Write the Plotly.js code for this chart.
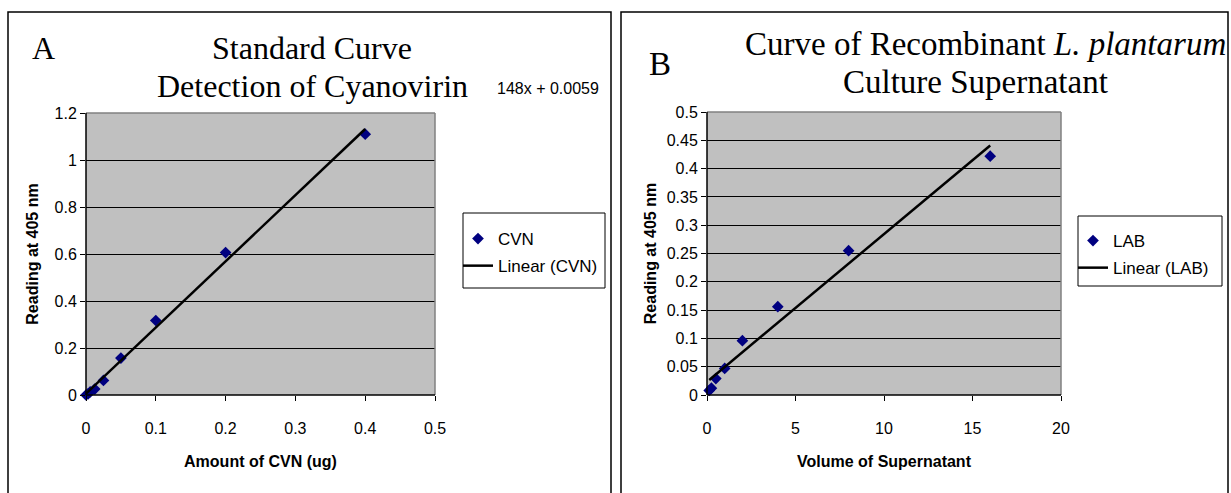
<!DOCTYPE html>
<html>
<head>
<meta charset="utf-8">
<script src="https://cdn.plot.ly/plotly-3.0.1.min.js"></script>
<style>html,body{margin:0;padding:0;background:#fff;}#chart{width:1231px;height:493px;}</style>
</head>
<body>
<div id="chart"></div>
<script>
// ---- Data ----
const cvnAmount = [0, 0.003, 0.006, 0.0125, 0.025, 0.05, 0.1, 0.2, 0.4];
const cvnReading = [0, 0.005, 0.013, 0.025, 0.062, 0.157, 0.317, 0.606, 1.11];
const cvnSlope = 2.8148;
const cvnIntercept = 0.0059;

const labVolume = [0.125, 0.25, 0.5, 1, 2, 4, 8, 16];
const labReading = [0.008, 0.012, 0.029, 0.047, 0.096, 0.156, 0.255, 0.422];
const labSlope = 0.0261;
const labIntercept = 0.0233;

const W = 1231, H = 493;
const X = px => px / W;
const Y = py => 1 - py / H;

function trend(xs, m, b) {
  const lo = Math.min(...xs), hi = Math.max(...xs);
  return {x: [lo, hi], y: [m * lo + b, m * hi + b]};
}
const tA = trend(cvnAmount, cvnSlope, cvnIntercept);
const tB = trend(labVolume, labSlope, labIntercept);

const sans = 'Liberation Sans, Arial, sans-serif';
const serif = 'Liberation Serif, Times New Roman, serif';
const markerStyle = {symbol: 'diamond', size: 9, color: '#000080'};

const data = [
  {type: 'scatter', mode: 'markers', name: 'CVN', x: cvnAmount, y: cvnReading,
   xaxis: 'x', yaxis: 'y', marker: markerStyle, legend: 'legend', legendgroup: 'a1', cliponaxis: false},
  {type: 'scatter', mode: 'lines', name: 'Linear (CVN)', x: tA.x, y: tA.y,
   xaxis: 'x', yaxis: 'y', line: {color: '#000', width: 2.5}, legend: 'legend', legendgroup: 'a2'},
  {type: 'scatter', mode: 'markers', name: 'LAB', x: labVolume, y: labReading,
   xaxis: 'x2', yaxis: 'y2', marker: markerStyle, legend: 'legend2', legendgroup: 'b1', cliponaxis: false},
  {type: 'scatter', mode: 'lines', name: 'Linear (LAB)', x: tB.x, y: tB.y,
   xaxis: 'x2', yaxis: 'y2', line: {color: '#000', width: 2.5}, legend: 'legend2', legendgroup: 'b2'}
];

const tickFont = {family: sans, size: 16, color: '#000'};
const titleFont = {family: sans, size: 16, color: '#000', weight: 'bold'};

function xax(domain, range, dtick, title) {
  return {domain: domain, range: range, dtick: dtick, tick0: 0, showgrid: false, zeroline: false,
    showline: false, ticks: 'outside', ticklen: 5, tickcolor: '#000', tickfont: tickFont,
    ticklabelstandoff: 14,
    title: {text: title, font: titleFont, standoff: 19}, fixedrange: true};
}
function yax(domain, range, dtick, title, standoff) {
  return {domain: domain, range: range, dtick: dtick, tick0: 0, showgrid: true, gridcolor: '#000',
    gridwidth: 1, zeroline: false, showline: false, ticks: 'outside', ticklen: 5, tickcolor: '#000',
    tickfont: tickFont, title: {text: title, font: titleFont, standoff: standoff}, fixedrange: true};
}

function frame(xr, yr) {
  return [
    {type: 'line', xref: xr + ' domain', yref: yr + ' domain', x0: 0, x1: 1, y0: 1, y1: 1,
     line: {color: '#808080', width: 1.5}, layer: 'above'},
    {type: 'line', xref: xr + ' domain', yref: yr + ' domain', x0: 1, x1: 1, y0: 0, y1: 1,
     line: {color: '#808080', width: 1.5}, layer: 'above'},
    {type: 'line', xref: xr + ' domain', yref: yr + ' domain', x0: 0, x1: 0, y0: 0, y1: 1,
     line: {color: '#000', width: 1.5}, layer: 'above'},
    {type: 'line', xref: xr + ' domain', yref: yr + ' domain', x0: 0, x1: 1, y0: 0, y1: 0,
     line: {color: '#000', width: 1.5}, layer: 'above'}
  ];
}

const legendFont = {family: sans, size: 17, color: '#000'};

const layout = {
  width: W, height: H,
  margin: {l: 0, r: 0, t: 0, b: 0},
  paper_bgcolor: '#fff', plot_bgcolor: '#c0c0c0',
  showlegend: true,
  font: {family: sans, color: '#000'},
  xaxis: xax([X(86), X(435)], [0, 0.5], 0.1, 'Amount of CVN (ug)'),
  yaxis: yax([Y(395), Y(113)], [0, 1.2], 0.2, 'Reading at 405 nm', 11),
  xaxis2: Object.assign(xax([X(707), X(1061)], [0, 20], 5, 'Volume of Supernatant'), {anchor: 'y2'}),
  yaxis2: Object.assign(yax([Y(395), Y(112)], [0, 0.5], 0.05, 'Reading at 405 nm', 6), {anchor: 'x2'}),
  legend: {x: X(458), y: Y(221), xanchor: 'left', yanchor: 'top', bgcolor: 'rgba(0,0,0,0)',
    borderwidth: 0, font: legendFont, tracegroupgap: 2, itemwidth: 30},
  legend2: {x: X(1073), y: Y(223), xanchor: 'left', yanchor: 'top', bgcolor: 'rgba(0,0,0,0)',
    borderwidth: 0, font: legendFont, tracegroupgap: 2, itemwidth: 30},
  shapes: [
    {type: 'rect', xref: 'paper', yref: 'paper', x0: X(8), x1: X(611), y0: Y(500), y1: Y(12),
     line: {color: '#000', width: 1.5}, layer: 'below'},
    {type: 'rect', xref: 'paper', yref: 'paper', x0: X(621), x1: X(1228), y0: Y(500), y1: Y(12),
     line: {color: '#000', width: 1.5}, layer: 'below'},
    {type: 'rect', xref: 'paper', yref: 'paper', x0: X(463), x1: X(605), y0: Y(288), y1: Y(213),
     line: {color: '#000', width: 1}, fillcolor: '#fff', layer: 'below'},
    {type: 'rect', xref: 'paper', yref: 'paper', x0: X(1078), x1: X(1222), y0: Y(286), y1: Y(216),
     line: {color: '#000', width: 1}, fillcolor: '#fff', layer: 'below'}
  ].concat(frame('x', 'y'), frame('x2', 'y2')),
  annotations: [
    {text: 'A', xref: 'paper', yref: 'paper', x: X(43), y: Y(48), xanchor: 'center', yanchor: 'middle',
     showarrow: false, font: {family: serif, size: 32, color: '#000'}},
    {text: 'Standard Curve', xref: 'paper', yref: 'paper', x: X(312), y: Y(48), xanchor: 'center',
     yanchor: 'middle', showarrow: false, font: {family: serif, size: 32, color: '#000'}},
    {text: 'Detection of Cyanovirin', xref: 'paper', yref: 'paper', x: X(312), y: Y(86),
     xanchor: 'center', yanchor: 'middle', showarrow: false, font: {family: serif, size: 32, color: '#000'}},
    {text: '148x + 0.0059', xref: 'paper', yref: 'paper', x: X(548), y: Y(88), xanchor: 'center',
     yanchor: 'middle', showarrow: false, font: {family: sans, size: 16, color: '#000'}},
    {text: 'B', xref: 'paper', yref: 'paper', x: X(660), y: Y(64), xanchor: 'center', yanchor: 'middle',
     showarrow: false, font: {family: serif, size: 33, color: '#000'}},
    {text: 'Curve of Recombinant <i>L. plantarum</i>', xref: 'paper', yref: 'paper', x: X(985), y: Y(44),
     xanchor: 'center', yanchor: 'middle', showarrow: false, font: {family: serif, size: 33, color: '#000'}},
    {text: 'Culture Supernatant', xref: 'paper', yref: 'paper', x: X(976), y: Y(82), xanchor: 'center',
     yanchor: 'middle', showarrow: false, font: {family: serif, size: 33, color: '#000'}}
  ]
};

Plotly.newPlot('chart', data, layout, {displayModeBar: false, staticPlot: true});
</script>
</body>
</html>
